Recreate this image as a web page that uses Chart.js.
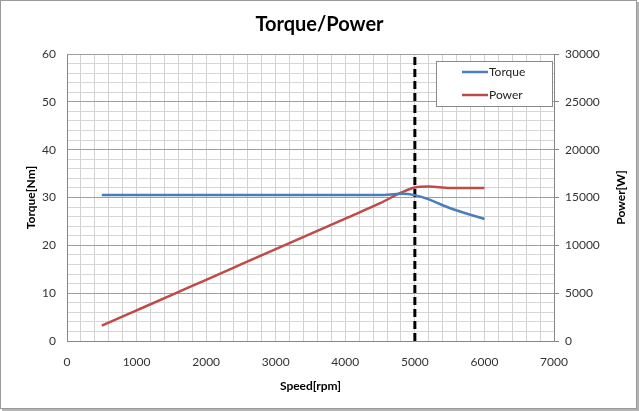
<!DOCTYPE html>
<html>
<head>
<meta charset="utf-8">
<script src="https://cdn.jsdelivr.net/npm/chart.js@4/dist/chart.umd.min.js"></script>
<style>
  html, body { margin: 0; padding: 0; background: #fff; }
  canvas { display: block; }
</style>
</head>
<body>
<canvas id="torqueChart" width="639" height="411"></canvas>
<script>
// Speed points (rpm) and values
const speed = [500, 1000, 1500, 2000, 2500, 3000, 3500, 4000, 4500, 4800, 5000, 5200, 5500, 6000];
const torque = [30.5, 30.5, 30.5, 30.5, 30.5, 30.5, 30.5, 30.5, 30.5, 30.8, 30.5, 29.6, 27.8, 25.5];
const power = [1600, 3200, 4800, 6400, 8000, 9600, 11200, 12800, 14400, 15500, 16050, 16150, 16000, 16000];

// vertical marker at rated speed
const markerSpeed = [5000, 5000];
const markerTorque = [0, 60];

const torqueTicks = [0, 10, 20, 30, 40, 50, 60];
const powerTicks = [0, 5000, 10000, 15000, 20000, 25000, 30000];
const speedTicks = [0, 1000, 2000, 3000, 4000, 5000, 6000, 7000];

const FONT = "Lato, Carlito, 'Open Sans', sans-serif";
const torqueColor = "#4a7ebb";
const powerColor = "#be4b48";

const toXY = (xs, ys) => xs.map((x, i) => ({ x: x, y: ys[i] }));

// draws the boxed legend, the right axis title and the outer frame
const extras = {
  id: "extras",
  afterDraw(chart) {
    const c = chart.ctx;
    const area = chart.chartArea;

    // legend box in the upper right of the plot
    const bx = area.right - 118, by = area.top + 7, bw = 116, bh = 45;
    c.save();
    c.fillStyle = "#fff";
    c.fillRect(bx, by, bw, bh);
    c.strokeStyle = "#8a8a8a";
    c.lineWidth = 1;
    c.strokeRect(bx + 0.5, by + 0.5, bw, bh);
    c.font = "12px " + FONT;
    c.textBaseline = "middle";
    c.textAlign = "left";
    chart.data.datasets.slice(0, 2).forEach((ds, i) => {
      const ly = by + 11 + i * 23;
      c.strokeStyle = ds.borderColor;
      c.lineWidth = 2.5;
      c.beginPath();
      c.moveTo(bx + 26, ly);
      c.lineTo(bx + 52, ly);
      c.stroke();
      c.fillStyle = "#222";
      c.fillText(ds.label, bx + 53, ly);
    });

    // right axis title, reading bottom to top
    c.translate(621, (area.top + area.bottom) / 2);
    c.rotate(-Math.PI / 2);
    c.font = "bold 12px " + FONT;
    c.textAlign = "center";
    c.fillStyle = "#000";
    c.fillText("Power[W]", 0, 0);
    c.restore();

    // outer frame
    c.save();
    c.strokeStyle = "#9a9a9a";
    c.lineWidth = 1;
    c.strokeRect(0.5, 0.5, chart.width - 3, chart.height - 3);
    c.strokeStyle = "#b4b4b4";
    c.lineWidth = 2;
    c.beginPath();
    c.moveTo(chart.width - 1, 2);
    c.lineTo(chart.width - 1, chart.height - 1);
    c.lineTo(2, chart.height - 1);
    c.stroke();
    c.restore();
  }
};

const ctx = document.getElementById("torqueChart").getContext("2d");

const torqueChart = new Chart(ctx, {
  type: "line",
  data: {
    datasets: [
      {
        label: "Torque",
        data: toXY(speed, torque),
        yAxisID: "y",
        borderColor: torqueColor,
        borderWidth: 2.5,
        pointRadius: 0,
        cubicInterpolationMode: "monotone",
        fill: false,
      },
      {
        label: "Power",
        data: toXY(speed, power),
        yAxisID: "y1",
        borderColor: powerColor,
        borderWidth: 2.5,
        pointRadius: 0,
        cubicInterpolationMode: "monotone",
        fill: false,
      },
      {
        label: "Rated speed",
        data: toXY(markerSpeed, markerTorque),
        yAxisID: "y",
        borderColor: "#000",
        borderWidth: 3,
        borderDash: [8, 4],
        pointRadius: 0,
        fill: false,
      },
    ],
  },
  options: {
    responsive: false,
    animation: false,
    layout: { padding: { left: 0, right: 0, top: 0, bottom: 0 } },
    scales: {
      x: {
        type: "linear",
        min: 0,
        max: 7000,
        afterFit: (s) => { s.height = 70; },
        afterBuildTicks: (s) => {
          const t = [];
          for (let v = 0; v <= 7000; v += 200) t.push({ value: v });
          s.ticks = t;
        },
        ticks: {
          autoSkip: false,
          maxRotation: 0,
          padding: 14,
          color: "#333",
          font: { family: FONT, size: 12 },
          callback: (v) => (speedTicks.includes(v) ? String(v) : ""),
        },
        grid: { color: "#d2d2d2", drawTicks: false },
        border: { color: "#868686" },
        title: {
          display: true,
          text: "Speed[rpm]",
          color: "#000",
          font: { family: FONT, size: 12, weight: "bold" },
          padding: { top: 0, bottom: 18 },
        },
      },
      y: {
        position: "left",
        min: 0,
        max: 60,
        afterFit: (s) => { s.width = 67; },
        afterBuildTicks: (s) => {
          const t = [];
          for (let v = 0; v <= 60; v += 2) t.push({ value: v });
          s.ticks = t;
        },
        ticks: {
          autoSkip: false,
          padding: 11,
          color: "#333",
          font: { family: FONT, size: 12 },
          callback: (v) => (torqueTicks.includes(v) ? String(v) : ""),
        },
        grid: {
          drawTicks: false,
          color: (c) => (c.tick && c.tick.value % 10 === 0 ? "#9e9e9e" : "#d6d6d6"),
        },
        border: { color: "#868686" },
        title: {
          display: true,
          text: "Torque[Nm]",
          color: "#000",
          font: { family: FONT, size: 12, weight: "bold" },
          padding: { top: 24, bottom: 0 },
        },
      },
      y1: {
        position: "right",
        min: 0,
        max: 30000,
        afterFit: (s) => { s.width = 85; },
        afterBuildTicks: (s) => {
          s.ticks = powerTicks.map((v) => ({ value: v }));
        },
        ticks: {
          padding: 6,
          color: "#333",
          font: { family: FONT, size: 12 },
          callback: (v) => String(v),
        },
        grid: { drawOnChartArea: false, tickLength: 5, color: "#868686" },
        border: { color: "#868686" },
      },
    },
    plugins: {
      legend: { display: false },
      tooltip: { enabled: false },
      title: {
        display: true,
        text: "Torque/Power",
        color: "#000",
        font: { family: FONT, size: 20, weight: "bold" },
        padding: { top: 13, bottom: 17 },
      },
    },
  },
  plugins: [extras],
});
</script>
</body>
</html>
